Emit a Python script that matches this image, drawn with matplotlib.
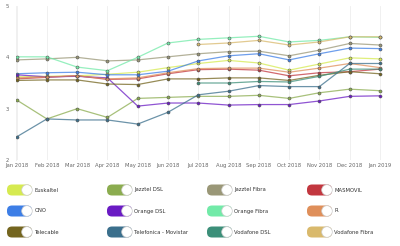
import matplotlib
matplotlib.use("Agg")
import matplotlib.pyplot as plt
from matplotlib.patches import FancyBboxPatch, Circle
import numpy as np

months = ["Jan 2018", "Feb 2018", "Mar 2018", "Apr 2018", "May 2018", "Jun 2018", "Jul 2018",
          "Aug 2018", "Sep 2018", "Oct 2018", "Nov 2018", "Dec 2018", "Jan 2019"]
N = None  # no data for that month

names = ["Euskaltel", "Jazztel DSL", "Jazztel Fibra", "MASMOVIL",
         "ONO", "Orange DSL", "Orange Fibra", "R",
         "Telecable", "Telefonica - Movistar", "Vodafone DSL", "Vodafone Fibra"]
colors = ["#d6ea50", "#8bac4f", "#9a9777", "#c2373f",
          "#3d7ee6", "#6a1bc4", "#72eaa8", "#df8f5a",
          "#74651f", "#3b6f8c", "#3c8f79", "#d9b96c"]

euskaltel    = [3.62, 3.63, 3.64, 3.67, 3.71, 3.80, 3.88, 3.94, 3.89, 3.75, 3.87, 3.99, 3.97]
jazztel_dsl  = [3.17, 2.80, 3.00, 2.83, 3.20, 3.22, 3.24, 3.24, 3.26, 3.20, 3.31, 3.38, 3.35]
jazztel_fib  = [3.95, 3.97, 4.00, 3.93, 3.95, 4.01, 4.07, 4.11, 4.12, 4.03, 4.14, 4.27, 4.24]
masmovil     = [3.58, 3.61, 3.64, 3.57, 3.58, 3.68, 3.76, 3.77, 3.75, 3.64, 3.70, 3.72, 3.77]
ono          = [3.68, 3.70, 3.71, 3.66, 3.66, 3.73, 3.93, 4.03, 4.07, 3.95, 4.07, 4.18, 4.17]
orange_dsl   = [3.66, 3.62, 3.63, 3.60, 3.05, 3.11, 3.11, 3.07, 3.08, 3.08, 3.15, 3.24, 3.25]
orange_fib   = [4.01, 4.01, 3.81, 3.74, 4.00, 4.28, 4.35, 4.38, 4.41, 4.30, 4.33, 4.40, 4.39]
r_cable      = [3.60, 3.62, 3.64, 3.58, 3.60, 3.70, 3.78, 3.79, 3.79, 3.71, 3.79, 3.88, 3.80]
telecable    = [3.55, 3.56, 3.56, 3.48, 3.47, 3.58, 3.58, 3.60, 3.60, 3.55, 3.65, 3.72, 3.68]
telefonica   = [2.45, 2.80, 2.78, 2.78, 2.70, 2.93, 3.27, 3.34, 3.45, 3.43, 3.43, 3.88, 3.88]
vodafone_dsl = [N, N, N, N, N, N, 3.50, 3.50, 3.53, 3.52, 3.63, 3.77, 3.77]
vodafone_fib = [N, N, N, N, N, N, 4.25, 4.28, 4.33, 4.24, 4.30, 4.40, 4.40]

series = [euskaltel, jazztel_dsl, jazztel_fib, masmovil, ono, orange_dsl,
          orange_fib, r_cable, telecable, telefonica, vodafone_dsl, vodafone_fib]

fig = plt.figure(figsize=(4, 2.46), dpi=100)
ax = fig.add_axes([16 / 400, 1 - 160 / 246, 367 / 400, 154 / 246])

x = np.arange(len(months))
for vals, c in zip(series, colors):
    y = np.array([np.nan if v is None else v for v in vals])
    ax.plot(x, y, color=c, lw=0.9, alpha=0.75, zorder=2)
    ax.plot(x, y, color=c, lw=0, marker="o", markersize=2.2,
            markeredgecolor="#555555", markeredgewidth=0.4, zorder=3)

ax.set_xlim(-0.02, 12.1)
ax.set_ylim(2, 5)
ax.set_yticks([2, 3, 4, 5])
ax.set_xticks(x)
ax.set_xticklabels(months)
ax.tick_params(axis="both", length=0, labelsize=3.8, colors="#666666", pad=2)
ax.tick_params(axis="y", pad=5)
ax.grid(axis="x", color="#eeeeee", lw=0.6)
for s in ["top", "right", "bottom"]:
    ax.spines[s].set_visible(False)
ax.spines["left"].set_color("#eeeeee")
ax.spines["left"].set_linewidth(0.6)

# legend drawn as toggle switches, in pixel coordinates
lg = fig.add_axes([0, 0, 1, 1], zorder=-1)
lg.set_xlim(0, 400)
lg.set_ylim(246, 0)
lg.axis("off")
col_x = [7, 107, 207, 307]
row_y = [190, 211, 232]
for i, (name, c) in enumerate(zip(names, colors)):
    cx = col_x[i % 4]
    cy = row_y[i // 4]
    pill = FancyBboxPatch((cx + 5, cy - 0.5), 15, 1, boxstyle="round,pad=5",
                          facecolor=c, edgecolor="none")
    lg.add_patch(pill)
    lg.add_patch(Circle((cx + 20, cy), 5.3, facecolor="white", edgecolor="#cccccc", lw=0.5))
    lg.text(cx + 27.5, cy, name, fontsize=3.8, color="#333333", va="center", ha="left")

fig.savefig("out.png", dpi=100)
